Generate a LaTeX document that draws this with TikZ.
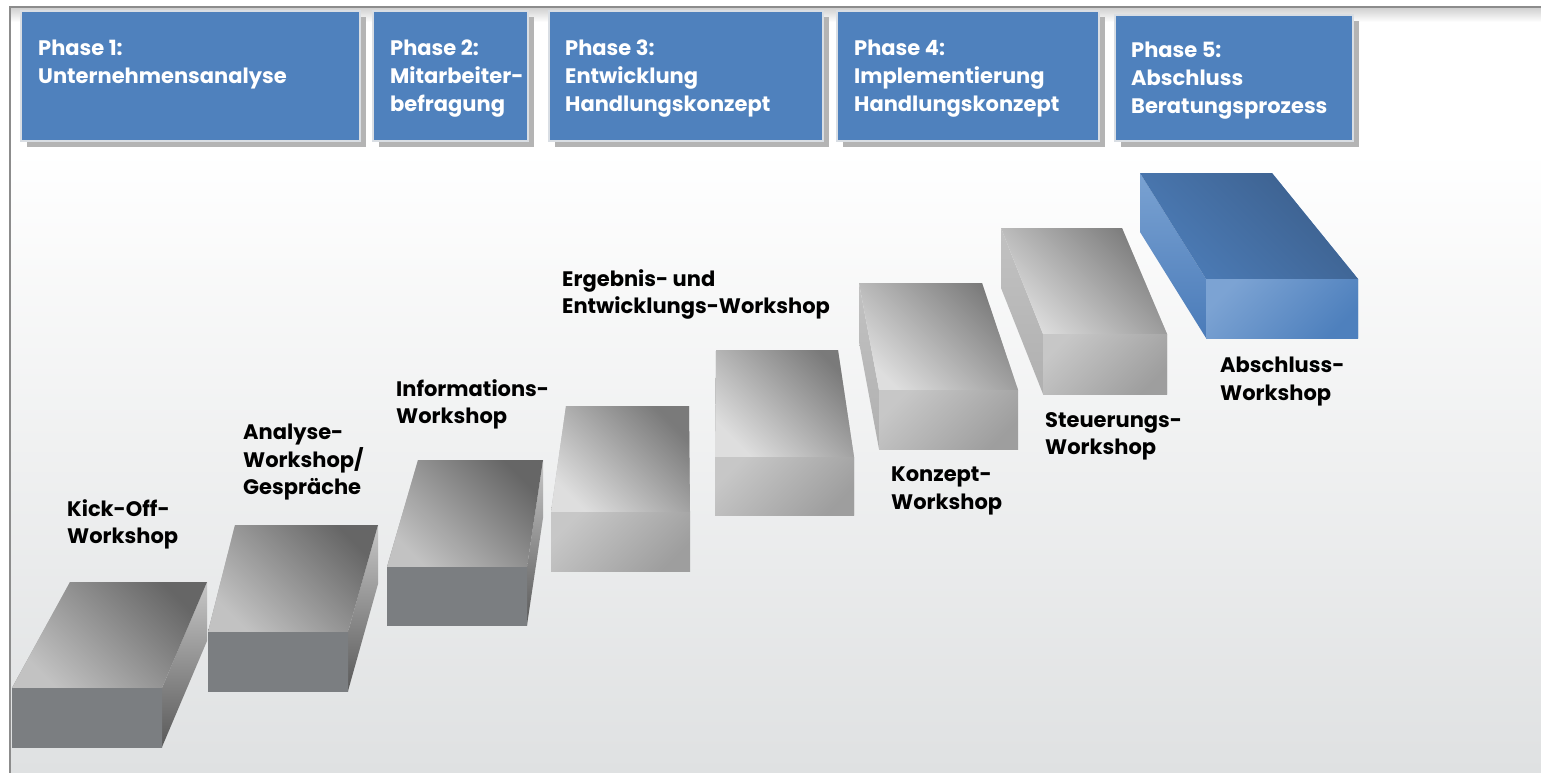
\documentclass[tikz,border=0pt]{standalone}
\usepackage{fontspec}
\setmainfont{Poppins}
\usetikzlibrary{positioning,shadows}

\definecolor{phaseblue}{HTML}{4F81BD}
\definecolor{boxrim}{HTML}{D9DEE4}
\definecolor{boxshadow}{HTML}{B4B4B4}
\definecolor{bgbottom}{HTML}{DFE1E2}
\definecolor{framegray}{HTML}{8C8C8C}

\tikzset{
  phasebox/.style={draw=boxrim, line width=2pt, fill=phaseblue, anchor=north west, inner sep=0pt,
    general shadow={fill=boxshadow, shadow xshift=6pt, shadow yshift=-6pt}},
  phasetext/.style={inner sep=0pt, align=left, text=white, font=\bfseries\fontsize{21}{28}\selectfont},
  steptext/.style={anchor=north west, inner sep=0pt, align=left, font=\bfseries\fontsize{21}{27.5}\selectfont},
  darktop/.style={top color=black!60, bottom color=black!24, shading angle=-45},
  darkfront/.style={top color={rgb,255:red,123;green,126;blue,129}, bottom color={rgb,255:red,123;green,126;blue,129}},
  darkside/.style={top color=black!22, bottom color=black!65},
  lighttop/.style={top color=black!52, bottom color=black!13, shading angle=-45},
  lightfront/.style={top color=black!22, bottom color=black!38, shading angle=45},
  lightside/.style={top color=black!24, bottom color=black!31},
  bluetop/.style={top color={rgb,255:red,60;green,95;blue,140}, bottom color={rgb,255:red,76;green,124;blue,183}, shading angle=-45},
  bluefront/.style={top color={rgb,255:red,124;green,163;blue,211}, bottom color={rgb,255:red,78;green,128;blue,189}, shading angle=45},
  blueside/.style={top color={rgb,255:red,122;green,162;blue,210}, bottom color={rgb,255:red,74;green,123;blue,185}},
}

% #1 back left, #2 back right, #3 back y, #4 front left, #5 front right, #6 front y, #7 bottom y, #8 kind
\newcommand{\stepblock}[8]{%
  \shade[#8side] (#2,#3) -- (#5,#6) -- (#5,#7) -- (#2,#3+#7-#6) -- cycle;
  \shade[#8side] (#1,#3) -- (#4,#6) -- (#4,#7) -- (#1,#3+#7-#6) -- cycle;
  \shade[#8top] (#1,#3) -- (#2,#3) -- (#5,#6) -- (#4,#6) -- cycle;
  \shade[#8front] (#4,#6) rectangle (#5,#7);
}

\begin{document}
\begin{tikzpicture}[x=1pt, y=-1pt]
    \useasboundingbox (0,0) rectangle (1541,773);
    \fill[white] (0,0) rectangle (1541,773);
    \shade[top color=white, bottom color=bgbottom] (10,150) rectangle (1541,773);
    \shade[top color=black!18, bottom color=white] (10,8) rectangle (1541,22);
    \draw[framegray, line width=1.5pt] (10,773) -- (10,7) -- (1541,7);

    % phases
    \node[phasebox, minimum width=339pt, minimum height=130pt] (p1) at (20,10) {};
    \node[phasebox, minimum width=155pt, minimum height=130pt] (p2) at (372,10) {};
    \node[phasebox, minimum width=274pt, minimum height=130pt] (p3) at (548,10) {};
    \node[phasebox, minimum width=262pt, minimum height=130pt] (p4) at (836,10) {};
    \node[phasebox, minimum width=238pt, minimum height=126pt] (p5) at (1114,14) {};

    \node[phasetext, below right=30pt and 18pt of p1.north west] (t1) {Phase 1:\\Unternehmensanalyse};
    \node[phasetext, below right=30pt and 18pt of p2.north west] (t2) {Phase 2:\\Mitarbeiter-\\befragung};
    \node[phasetext, below right=30pt and 17pt of p3.north west] (t3) {Phase 3:\\Entwicklung\\Handlungskonzept};
    \node[phasetext, below right=30pt and 18pt of p4.north west] (t4) {Phase 4:\\Implementierung\\Handlungskonzept};
    \node[phasetext, below right=28pt and 17pt of p5.north west] (t5) {Phase 5:\\Abschluss\\Beratungsprozess};

    % steps
    \stepblock{70}{207}{582}{12}{162}{688}{747}{dark}
    \stepblock{235}{378}{525}{208}{348}{632}{691}{dark}
    \stepblock{418}{543}{460}{387}{527}{567}{625}{dark}
    \stepblock{566}{689}{406}{551}{690}{512}{571}{light}
    \stepblock{716}{838}{350}{715}{854}{457}{515}{light}
    \stepblock{859}{982}{283}{879}{1018}{390}{449}{light}
    \stepblock{1001}{1122}{228}{1043}{1167}{334}{394}{light}
    \stepblock{1140}{1272}{173}{1206}{1358}{279}{338}{blue}

    \node[steptext] (kick) at (67,499) {Kick-Off-\\Workshop};
    \node[steptext] (analyse) at (243,424) {Analyse-\\Workshop/\\Gespräche};
    \node[steptext] (info) at (396,379) {Informations-\\Workshop};
    \node[steptext] (ergebnis) at (562,269) {Ergebnis- und\\Entwicklungs-Workshop};
    \node[steptext] (konzept) at (891,467) {Konzept-\\Workshop};
    \node[steptext] (steuer) at (1045,412) {Steuerungs-\\Workshop};
    \node[steptext] (abschluss) at (1220,357) {Abschluss-\\Workshop};
\end{tikzpicture}
\end{document}
